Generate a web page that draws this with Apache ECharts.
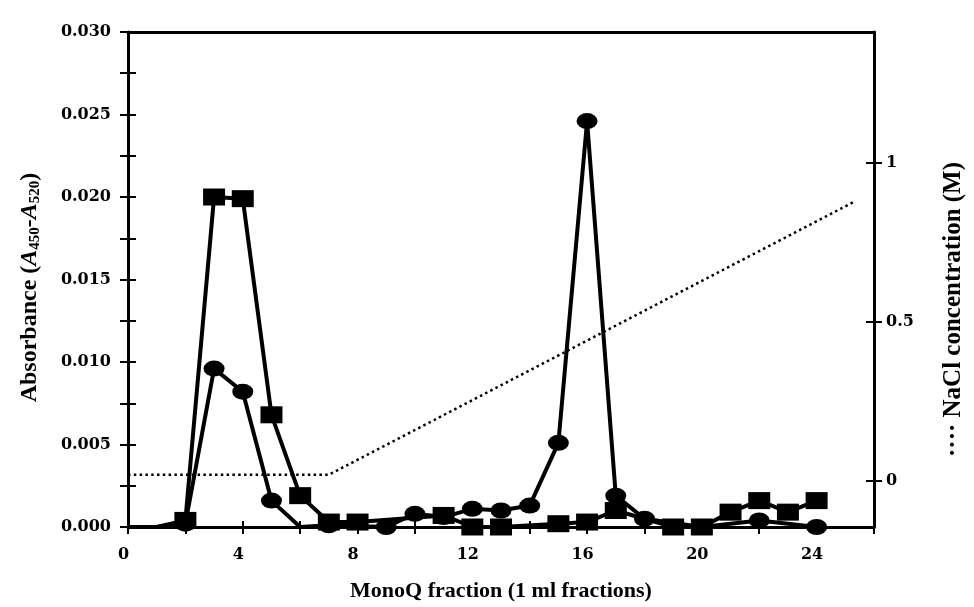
<!DOCTYPE html>
<html>
<head>
<meta charset="utf-8">
<script src="https://cdn.jsdelivr.net/npm/echarts@6/dist/echarts.min.js"></script>
<style>
html,body{margin:0;padding:0;background:#fff;}
#chart{width:974px;height:607px;}
</style>
</head>
<body>
<div id="chart"></div>
<script>
// ---- data ----
const squareFractions = [0, 1, 2, 3, 4, 5, 6, 7, 8, 11, 12, 13, 15, 16, 17, 19, 20, 21, 22, 23, 24];
const squareValues    = [0, 0, 0.0004, 0.0200, 0.0199, 0.0068, 0.0019, 0.0003, 0.0003, 0.0007, 0, 0, 0.0002, 0.0003, 0.0010, 0, 0, 0.0009, 0.0016, 0.0009, 0.0016];
const squareHidden    = [0, 1]; // fractions drawn without marker

const circleFractions = [0, 1, 2, 3, 4, 5, 6, 7, 9, 10, 11, 12, 13, 14, 15, 16, 17, 18, 20, 22, 24];
const circleValues    = [0, 0, 0.0002, 0.0096, 0.0082, 0.0016, 0, 0.0001, 0, 0.0008, 0.0006, 0.0011, 0.0010, 0.0013, 0.0051, 0.0246, 0.0019, 0.0005, 0, 0.0004, 0];
const circleHidden    = [0, 1, 6];

const naclFractions = [0, 7, 25.3];
const naclValues    = [0.02, 0.02, 0.876];

const rightTicks = [0, 0.5, 1];
const xLabelTicks = [0, 4, 8, 12, 16, 20, 24];

// ---- build ----
const SERIF = '"Liberation Serif", "DejaVu Serif", serif';
const TICKFONT = '"DejaVu Serif", "Liberation Serif", serif';
function pairs(xs, ys, hidden) {
  return xs.map((x, i) => hidden && hidden.indexOf(x) >= 0
    ? { value: [x, ys[i]], symbol: 'none' }
    : [x, ys[i]]);
}

const chart = echarts.init(document.getElementById('chart'), null, { renderer: 'canvas' });
const axisLine = { show: true, onZero: false, lineStyle: { color: '#000', width: 3 } };
const noLine = { show: false, onZero: false };
const labelStyle = { color: '#000', fontFamily: TICKFONT, fontWeight: 'bold', fontSize: 16 };
const tickStyle = { color: '#000', width: 2 };

const option = {
  animation: false,
  backgroundColor: '#fff',
  grid: { left: 128, right: 95, top: 32, bottom: 78, containLabel: false },
  xAxis: [
    {
      type: 'value', position: 'bottom', min: 0, max: 26, interval: 2,
      axisLine: axisLine,
      axisTick: { show: true, length: 7, lineStyle: tickStyle },
      splitLine: { show: false },
      axisLabel: Object.assign({}, labelStyle, {
        margin: 20, padding: [0, 9, 0, 0],
        formatter: v => xLabelTicks.indexOf(v) >= 0 ? String(v) : ''
      }),
      name: 'MonoQ fraction (1 ml fractions)',
      nameLocation: 'middle', nameGap: 53,
      nameTextStyle: { color: '#000', fontFamily: SERIF, fontWeight: 'bold', fontSize: 22 }
    },
    {
      type: 'value', position: 'bottom', min: 0, max: 26, interval: 2,
      axisLine: noLine,
      axisTick: { show: true, inside: true, length: 6, lineStyle: tickStyle },
      axisLabel: { show: false }, splitLine: { show: false }
    },
    {
      type: 'value', position: 'top', min: 0, max: 26,
      axisLine: axisLine, axisTick: { show: false }, axisLabel: { show: false }, splitLine: { show: false }
    }
  ],
  yAxis: [
    {
      type: 'value', position: 'left', min: 0, max: 0.03, interval: 0.005,
      axisLine: axisLine,
      axisTick: { show: true, length: 8, lineStyle: tickStyle },
      minorTick: { show: true, splitNumber: 2, length: 8, lineStyle: tickStyle },
      splitLine: { show: false }, minorSplitLine: { show: false },
      axisLabel: Object.assign({}, labelStyle, {
        margin: 17, padding: [0, 0, 10, 0],
        formatter: v => v.toFixed(3)
      }),
      name: '{b|Absorbance (}{i|A}{s|450}{b|-}{i|A}{s|520}{b|)}',
      nameLocation: 'middle', nameGap: 85, nameRotate: 90,
      nameTextStyle: {
        color: '#000', padding: [0, 16, 0, 0],
        rich: {
          b: { fontFamily: SERIF, fontWeight: 'bold', fontSize: 24, color: '#000', lineHeight: 27 },
          i: { fontFamily: SERIF, fontWeight: 'bold', fontStyle: 'italic', fontSize: 24, color: '#000', lineHeight: 27 },
          s: { fontFamily: SERIF, fontWeight: 'bold', fontSize: 15, color: '#000', lineHeight: 27, verticalAlign: 'bottom', padding: [9, 0, 0, 0] }
        }
      }
    },
    {
      type: 'value', position: 'right', min: -0.144, max: 1.409,
      axisLine: axisLine,
      axisTick: { show: true, length: 8, customValues: rightTicks, lineStyle: tickStyle },
      splitLine: { show: false },
      axisLabel: Object.assign({}, labelStyle, {
        margin: 12, customValues: rightTicks,
        formatter: v => String(v)
      }),
      name: '···· NaCl concentration (M)',
      nameLocation: 'middle', nameGap: 67, nameRotate: 90,
      nameTextStyle: { color: '#000', fontFamily: SERIF, fontWeight: 'bold', fontSize: 25, padding: [0, 60, 0, 0] }
    },
    {
      type: 'value', position: 'left', min: 0, max: 0.03, interval: 0.005,
      axisLine: noLine,
      axisTick: { show: true, inside: true, length: 8, lineStyle: tickStyle },
      minorTick: { show: true, splitNumber: 2, length: 8, lineStyle: tickStyle },
      axisLabel: { show: false }, splitLine: { show: false }, minorSplitLine: { show: false }
    },
    {
      type: 'value', position: 'right', min: -0.144, max: 1.409,
      axisLine: noLine,
      axisTick: { show: true, inside: true, length: 8, customValues: rightTicks, lineStyle: tickStyle },
      axisLabel: { show: false }, splitLine: { show: false }
    }
  ],
  series: [
    {
      name: 'NaCl', type: 'line', xAxisIndex: 0, yAxisIndex: 1,
      data: pairs(naclFractions, naclValues),
      symbol: 'none', silent: true, z: 1,
      lineStyle: { color: '#000', width: 2.5, type: [2.5, 3.3] }
    },
    {
      name: 'circles', type: 'line', xAxisIndex: 0, yAxisIndex: 0,
      data: pairs(circleFractions, circleValues, circleHidden),
      symbol: 'circle', symbolSize: [21, 16], showAllSymbol: true, z: 3,
      itemStyle: { color: '#000', borderWidth: 0 },
      lineStyle: { color: '#000', width: 4 }
    },
    {
      name: 'squares', type: 'line', xAxisIndex: 0, yAxisIndex: 0,
      data: pairs(squareFractions, squareValues, squareHidden),
      symbol: 'rect', symbolSize: [22, 17], showAllSymbol: true, z: 4,
      itemStyle: { color: '#000', borderWidth: 0 },
      lineStyle: { color: '#000', width: 4 }
    }
  ]
};
chart.setOption(option);
</script>
</body>
</html>
